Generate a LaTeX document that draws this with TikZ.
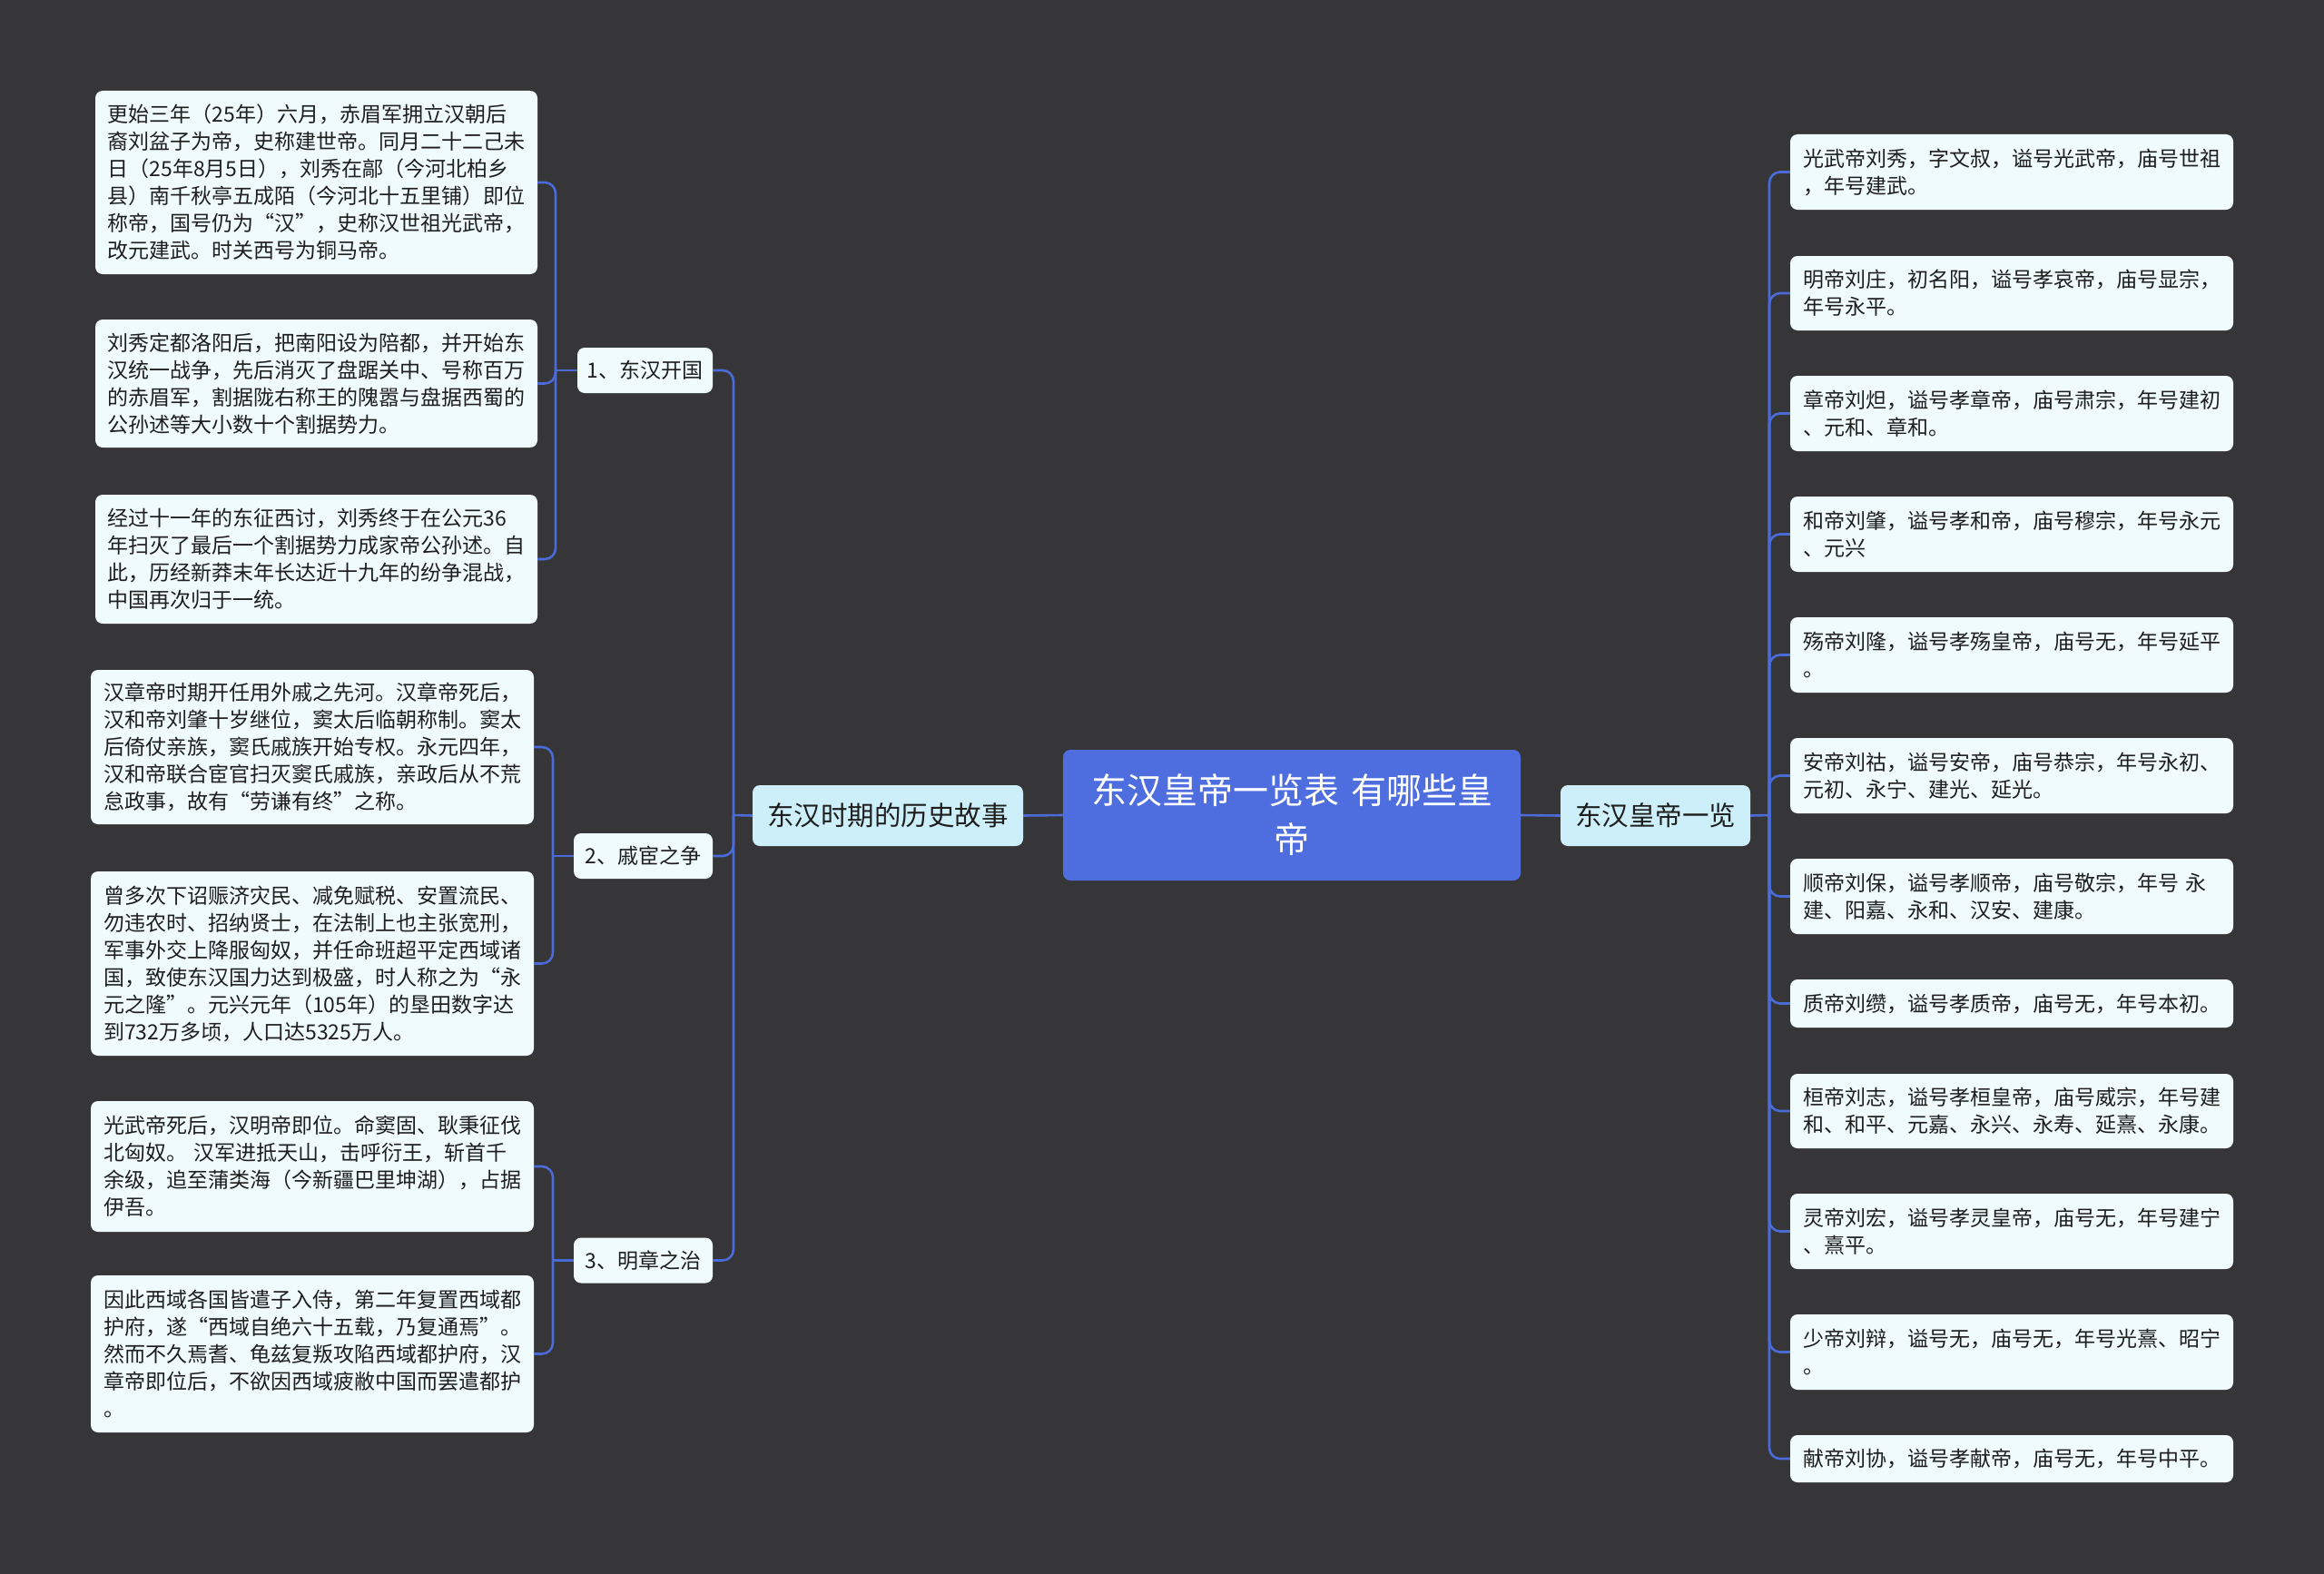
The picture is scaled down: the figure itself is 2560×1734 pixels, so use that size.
\documentclass[tikz,border=0pt]{standalone}
\usepackage{fontspec}
\setmainfont{Noto Sans CJK SC}
\definecolor{bgc}{HTML}{363538}
\definecolor{connc}{HTML}{4B6BD8}
\definecolor{rootc}{HTML}{4E6EDF}
\definecolor{boxc}{HTML}{EFFBFD}
\definecolor{subc}{HTML}{CDEFFA}
\definecolor{txtc}{HTML}{1E1E1E}
\tikzset{
  tbox/.style={fill=boxc, rounded corners=8pt, inner xsep=13pt, inner ysep=0pt,
    align=left, text=txtc, font=\fontsize{23}{30}\selectfont, anchor=center,
    text width=460pt, minimum width=488pt},
  midbox/.style={fill=boxc, rounded corners=8pt, inner sep=0pt, text=txtc,
    font=\fontsize{23}{30}\selectfont, minimum width=151pt, minimum height=50pt},
  subbox/.style={fill=subc, rounded corners=8pt, inner sep=0pt, text=txtc,
    font=\fontsize{29.5}{36}\selectfont, minimum height=67pt},
  rootbox/.style={fill=rootc, rounded corners=8pt, inner sep=0pt, text=white,
    align=center, text width=470pt, font=\fontsize{39}{54}\selectfont,
    minimum width=504pt, minimum height=144pt},
  conn/.style={draw=connc, line width=2.6pt, rounded corners=12pt}
}
\begin{document}
\begin{tikzpicture}[x=1pt,y=-1pt]
\fill[bgc] (0,0) rectangle (2560,1734);
\useasboundingbox (0,0) rectangle (2560,1734);

% central nodes
\node[rootbox] (root) at (1423,898) {东汉皇帝一览表 有哪些皇\\帝};
\node[subbox, minimum width=298pt] (s1) at (978,898.5) {东汉时期的历史故事};
\node[subbox, minimum width=209pt] (s2) at (1823.5,898.5) {东汉皇帝一览};

% level 2
\node[midbox, minimum width=149pt] (n1) at (710.5,408) {1、东汉开国};
\node[midbox, minimum width=153pt] (n2) at (708.5,943) {2、戚宦之争};
\node[midbox, minimum width=153pt] (n3) at (708.5,1388.5) {3、明章之治};

% left text boxes
\node[tbox, minimum height=202pt, minimum width=487pt] (l1) at (348.5,201) {更始三年（25年）六月，赤眉军拥立汉朝后\\裔刘盆子为帝，史称建世帝。同月二十二己未\\日（25年8月5日），刘秀在鄗（今河北柏乡\\县）南千秋亭五成陌（今河北十五里铺）即位\\称帝，国号仍为“汉”，史称汉世祖光武帝，\\改元建武。时关西号为铜马帝。};
\node[tbox, minimum height=141pt, minimum width=487pt] (l2) at (348.5,422.5) {刘秀定都洛阳后，把南阳设为陪都，并开始东\\汉统一战争，先后消灭了盘踞关中、号称百万\\的赤眉军，割据陇右称王的隗嚣与盘据西蜀的\\公孙述等大小数十个割据势力。};
\node[tbox, minimum height=142pt, minimum width=487pt] (l3) at (348.5,616) {经过十一年的东征西讨，刘秀终于在公元36\\年扫灭了最后一个割据势力成家帝公孙述。自\\此，历经新莽末年长达近十九年的纷争混战，\\中国再次归于一统。};
\node[tbox, minimum height=170pt] (l4) at (344,823) {汉章帝时期开任用外戚之先河。汉章帝死后，\\汉和帝刘肇十岁继位，窦太后临朝称制。窦太\\后倚仗亲族，窦氏戚族开始专权。永元四年，\\汉和帝联合宦官扫灭窦氏戚族，亲政后从不荒\\怠政事，故有“劳谦有终”之称。};
\node[tbox, minimum height=203pt] (l5) at (344,1061.5) {曾多次下诏赈济灾民、减免赋税、安置流民、\\勿违农时、招纳贤士，在法制上也主张宽刑，\\军事外交上降服匈奴，并任命班超平定西域诸\\国，致使东汉国力达到极盛，时人称之为“永\\元之隆”。元兴元年（105年）的垦田数字达\\到732万多顷，人口达5325万人。};
\node[tbox, minimum height=144pt] (l6) at (344,1285) {光武帝死后，汉明帝即位。命窦固、耿秉征伐\\北匈奴。 汉军进抵天山，击呼衍王，斩首千\\余级，追至蒲类海（今新疆巴里坤湖），占据\\伊吾。};
\node[tbox, minimum height=173pt] (l7) at (344,1491.5) {因此西域各国皆遣子入侍，第二年复置西域都\\护府，遂“西域自绝六十五载，乃复通焉”。\\然而不久焉耆、龟兹复叛攻陷西域都护府，汉\\章帝即位后，不欲因西域疲敝中国而罢遣都护\\。};

% right text boxes
\node[tbox, minimum height=83pt] (r1) at (2216,189.5) {光武帝刘秀，字文叔，谥号光武帝，庙号世祖\\，年号建武。};
\node[tbox, minimum height=82pt] (r2) at (2216,323) {明帝刘庄，初名阳，谥号孝哀帝，庙号显宗，\\年号永平。};
\node[tbox, minimum height=83pt] (r3) at (2216,455.5) {章帝刘炟，谥号孝章帝，庙号肃宗，年号建初\\、元和、章和。};
\node[tbox, minimum height=83pt] (r4) at (2216,588.5) {和帝刘肇，谥号孝和帝，庙号穆宗，年号永元\\、元兴};
\node[tbox, minimum height=83pt] (r5) at (2216,721.5) {殇帝刘隆，谥号孝殇皇帝，庙号无，年号延平\\。};
\node[tbox, minimum height=83pt] (r6) at (2216,854.5) {安帝刘祜，谥号安帝，庙号恭宗，年号永初、\\元初、永宁、建光、延光。};
\node[tbox, minimum height=83pt] (r7) at (2216,987.5) {顺帝刘保，谥号孝顺帝，庙号敬宗，年号 永\\建、阳嘉、永和、汉安、建康。};
\node[tbox, minimum height=53pt] (r8) at (2216,1105.5) {质帝刘缵，谥号孝质帝，庙号无，年号本初。};
\node[tbox, minimum height=82pt] (r9) at (2216,1224) {桓帝刘志，谥号孝桓皇帝，庙号威宗，年号建\\和、和平、元嘉、永兴、永寿、延熹、永康。};
\node[tbox, minimum height=83pt] (r10) at (2216,1356.5) {灵帝刘宏，谥号孝灵皇帝，庙号无，年号建宁\\、熹平。};
\node[tbox, minimum height=83pt] (r11) at (2216,1489.5) {少帝刘辩，谥号无，庙号无，年号光熹、昭宁\\。};
\node[tbox, minimum height=52pt] (r12) at (2216,1607) {献帝刘协，谥号孝献帝，庙号无，年号中平。};

% junction coordinates
\coordinate (tl) at (808,898);
\coordinate (tr) at (1949,898);
\coordinate (t1) at (612,408);
\coordinate (t2) at (609,943);
\coordinate (t3) at (609,1388.5);

% connectors
\draw[conn] (root.west) -- (s1.east);
\draw[conn] (root.east) -- (s2.west);
\draw[conn] (s1.west) -- (tl);
\draw[conn] (s2.east) -- (tr);
\foreach \c in {n1,n2,n3} {
  \draw[conn] (\c.east) -- (\c.east -| tl) -- (tl);
}
\foreach \c in {r1,r2,r3,r4,r5,r6,r7,r8,r9,r10,r11,r12} {
  \draw[conn] (\c.west) -- (\c.west -| tr) -- (tr);
}
\draw[conn] (n1.west) -- (t1);
\draw[conn] (n2.west) -- (t2);
\draw[conn] (n3.west) -- (t3);
\foreach \c in {l1,l2,l3} {
  \draw[conn] (\c.east) -- (\c.east -| t1) -- (t1);
}
\foreach \c in {l4,l5} {
  \draw[conn] (\c.east) -- (\c.east -| t2) -- (t2);
}
\foreach \c in {l6,l7} {
  \draw[conn] (\c.east) -- (\c.east -| t3) -- (t3);
}
\end{tikzpicture}
\end{document}
